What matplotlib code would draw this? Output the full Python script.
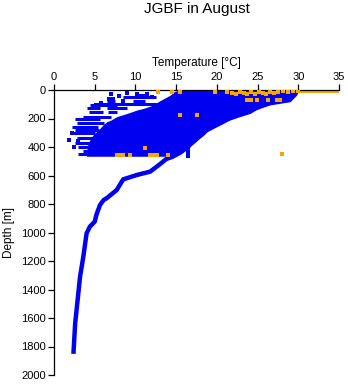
import numpy as np
import matplotlib
matplotlib.use('Agg')
import matplotlib.pyplot as plt

plt.rcParams['font.family'] = ['Liberation Sans', 'DejaVu Sans']

# envelope of the dense cloud of profiles (depth, min temp, max temp)
env_depth = [0, 10, 35, 82, 105, 129, 140, 164, 187, 211, 222, 246, 269, 293, 316, 339, 374, 398, 433, 450, 465]
env_tmin = [15.5, 14.8, 14.3, 12.8, 12.2, 11.0, 10.2, 9.0, 7.7, 7.0, 6.5, 6.0, 5.65, 5.2, 4.8, 4.5, 4.2, 4.1, 4.0, 4.0, 4.0]
env_tmax = [30.0, 30.0, 29.8, 29.0, 26.5, 25.3, 24.8, 24.1, 22.8, 21.6, 21.2, 20.4, 19.6, 18.8, 18.4, 17.9, 17.2, 16.7, 15.9, 15.4, 14.8]

# horizontal streaks left of the cloud (depth, t start, t end)
streak_depth = [35, 50, 77, 77, 101, 105, 129, 129, 152, 152, 187, 206, 230, 257, 280, 304, 339, 370, 402, 430, 451]
streak_t0 = [10.0, 8.5, 6.5, 9.7, 5.2, 4.4, 6.5, 4.0, 4.3, 6.6, 3.6, 2.6, 2.8, 2.2, 2.6, 2.2, 2.8, 2.6, 3.0, 3.5, 3.0]
streak_t1 = [11.4, 12.5, 7.5, 11.2, 14.3, 7.7, 9.0, 5.6, 6.0, 7.7, 7.0, 5.6, 6.2, 5.4, 5.5, 5.0, 5.0, 4.5, 4.2, 4.5, 4.2]

# single scattered blue points
dot_t = [10.2, 11.4, 12.0, 5.2, 6.7, 7.3, 8.5, 1.8, 2.4, 2.2, 16.5, 16.5, 16.5, 16.5, 9.0, 8.0, 3.0, 7.0, 5.8]
dot_d = [28, 28, 51, 105, 60, 60, 77, 351, 402, 304, 400, 420, 440, 460, 18, 45, 360, 30, 90]

# deep profile
deep_t = [16.4, 15.5, 14.5, 13.8, 12.8, 11.8, 10.2, 8.5, 7.7, 6.5, 6.1, 5.65, 5.2, 5.0, 4.4, 4.0, 3.6, 3.2, 2.9, 2.6, 2.4]
deep_d = [400, 440, 470, 484, 530, 573, 596, 627, 702, 758, 772, 807, 877, 924, 959, 1006, 1170, 1310, 1474, 1637, 1836]

# orange points
or_t = [12.8, 14.5, 15.5, 19.8, 21.2, 21.8, 22.3, 22.8, 23.3, 23.7, 24.2, 24.7, 25.2, 25.7, 26.0, 26.5,
        27.0, 27.5, 28.1, 28.7, 29.3, 30.0, 23.7, 24.2, 24.9, 26.3, 27.4, 27.8, 15.5, 17.6, 11.2,
        7.7, 8.1, 8.5, 9.3, 11.8, 12.2, 12.6, 14.0, 28.0]
or_d = [16, 16, 16, 16, 15, 20, 25, 15, 20, 30, 15, 25, 15, 20, 30, 15,
        22, 15, 10, 12, 8, 6, 70, 70, 70, 70, 68, 68, 175, 172, 405,
        458, 458, 458, 458, 458, 458, 458, 458, 449]
or_line_t = [29.8, 35.0]
or_line_d = [4, 4]

blue = '#0000f0'
orange = '#ffa500'

fig = plt.figure(figsize=(3.48, 3.84), dpi=100)
ax = fig.add_axes([54/348, 9/384, 285/348, 285/384])

ax.fill_betweenx(env_depth, env_tmin, env_tmax, color=blue, lw=0)
ax.hlines(streak_depth, streak_t0, streak_t1, color=blue, lw=2.2)
ax.scatter(dot_t, dot_d, s=6, marker='s', color=blue, lw=0)
ax.plot(deep_t, deep_d, color=blue, lw=3.2)

ax.plot(or_line_t, or_line_d, color=orange, lw=2.2)
ax.scatter(or_t, or_d, s=7, marker='s', color=orange, lw=0, zorder=3)

ax.set_xlim(0, 35)
ax.set_ylim(2000, 0)
ax.set_xticks(range(0, 36, 5))
ax.set_yticks(range(0, 2001, 200))
ax.xaxis.tick_top()
ax.xaxis.set_label_position('top')
ax.spines['right'].set_visible(False)
ax.spines['bottom'].set_visible(False)
for s in ['top', 'left']:
    ax.spines[s].set_linewidth(0.9)
ax.tick_params(length=4, width=0.9, labelsize=8, pad=2)
ax.set_xlabel('Temperature [°C]', fontsize=8.5, labelpad=4)
ax.set_ylabel('Depth [m]', fontsize=8.5, labelpad=4)

fig.text(196.5/348, 1 - 9/384, 'JGBF in August', ha='center', va='center', fontsize=11)

fig.savefig('out.png', dpi=100)
